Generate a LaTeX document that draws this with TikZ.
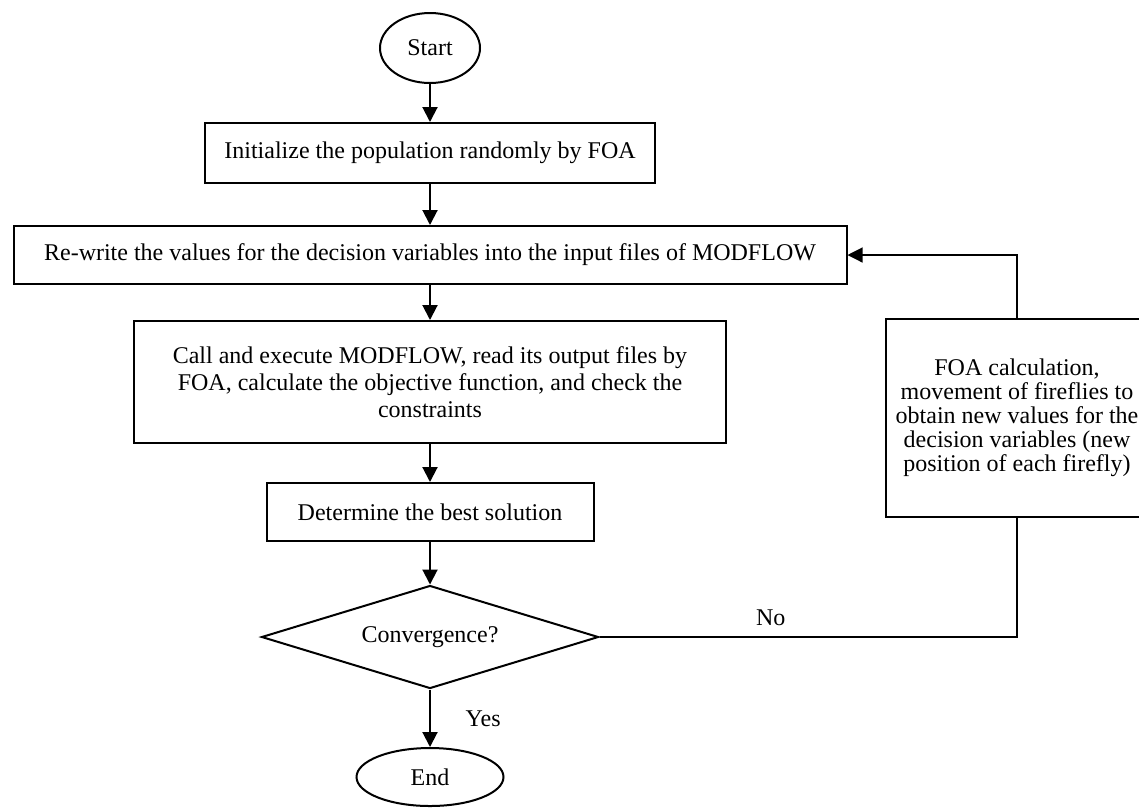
\documentclass[tikz,border=0pt]{standalone}
\usepackage{fontspec}
\setmainfont{Liberation Serif}
\usetikzlibrary{shapes.geometric, arrows.meta, positioning}
\tikzset{
  thinline/.style={draw, line width=0.6pt},
  edge/.style={draw, line width=1pt, -{Triangle[length=7.5pt, width=7.5pt]}},
}

\begin{document}
\begin{tikzpicture}[x=0.5pt, y=-0.5pt, font=\fontsize{12}{13.5}\selectfont]
	\tikzstyle{abox}=[draw, line width=1pt, rectangle, inner sep=0pt, align=center]
	\tikzstyle{term}=[draw, line width=1pt, ellipse, inner sep=0pt]
	\tikzstyle{loopedge}=[thinline, -{Triangle[length=7.5pt, width=7.5pt]}]

	\useasboundingbox (0,0) rectangle (1139,810);

	\node[term, minimum width=50pt, minimum height=35pt] (start) at (430,48) {Start};
	\node[abox, minimum width=225pt, minimum height=30pt] (init) at (430,153) {Initialize the population randomly by FOA};
	\node[abox, minimum width=416.5pt, minimum height=29pt] (rewrite) at (430,255) {Re-write the values for the decision variables into the input files of MODFLOW};
	\node[abox, minimum width=296pt, minimum height=61pt] (call) at (430,382) {Call and execute MODFLOW, read its output files by\\FOA, calculate the objective function, and check the\\constraints};
	\node[abox, minimum width=163.5pt, minimum height=29pt] (best) at (430,512) {Determine the best solution};
	\node[draw, line width=1pt, diamond, aspect=3.27, inner sep=0pt, minimum width=168.5pt, minimum height=51.5pt] (conv) at (430,637) {Convergence?};
	\node[term, minimum width=73.5pt, minimum height=29pt] (end) at (430,777) {End};
	\node[abox, minimum width=131pt, minimum height=99pt, font=\fontsize{12}{12}\selectfont] (move) at (1017,418) {FOA calculation,\\movement of fireflies to\\obtain new values for the\\decision variables (new\\position of each firefly)};

	% main flow
	\draw[edge] (start) -- (init);
	\draw[edge] (init) -- (rewrite);
	\draw[edge] (rewrite) -- (call);
	\draw[edge] (call) -- (best);
	\draw[edge] (best) -- (conv);
	\draw[edge] (conv) -- node[right=14pt] {Yes} (end);

	% loop back
	\draw[thinline] (conv.east) -- node[pos=0.41, above=2pt] {No} (conv.east -| move.south) -- (move.south);
	\draw[loopedge] (move.north) |- (rewrite.east);
\end{tikzpicture}
\end{document}
